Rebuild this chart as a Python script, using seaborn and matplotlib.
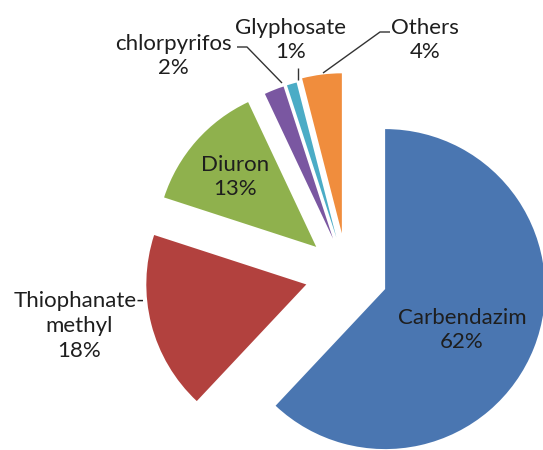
import matplotlib
matplotlib.use("Agg")
import matplotlib.pyplot as plt
import seaborn as sns

# Share of residues detected, by pesticide
categories = ["Carbendazim", "Thiophanate-\nmethyl", "Diuron", "chlorpyrifos", "Glyphosate", "Others"]
shares = [62, 18, 13, 2, 1, 4]

sns.set_theme(style="white")
plt.rcParams["font.family"] = ["Lato", "DejaVu Sans"]

colors = ["#4A76B1", "#B2413E", "#8FB14D", "#7A57A1", "#4BACC6", "#F08D3D"]
offsets = [41, 42, 41, 38, 38, 41]

W, H = 543, 450
fig = plt.figure(figsize=(W / 100, H / 100), dpi=100)
ax = fig.add_axes([0, 0, 1, 1])

# pie centre and radius in pixel-like data units (y measured from the bottom)
cx, cy, r = 347, H - 274, 160
wedges, _ = ax.pie(shares, colors=colors, explode=offsets, radius=r, center=(cx, cy),
                   startangle=90, counterclock=False,
                   wedgeprops=dict(linewidth=0))
ax.set_xlim(0, W)
ax.set_ylim(0, H)
ax.set_aspect("equal")
ax.axis("off")

txt = dict(fontsize=16, color="#1E1E1E", ha="center", va="center", linespacing=1.3)

def label(x, y, s):
    ax.text(x, H - y, s, **txt)

label(462, 330, f"{categories[0]}\n{shares[0]}%")
label(79, 326, f"{categories[1]}\n{shares[1]}%")
label(235, 177, f"{categories[2]}\n{shares[2]}%")
label(173, 56, f"{categories[3]}\n{shares[3]}%")
label(291, 40, f"{categories[4]}\n{shares[4]}%")
label(425, 40, f"{categories[5]}\n{shares[5]}%")

# leader lines for the thin slices
lk = dict(color="#333333", lw=1.0, solid_capstyle="butt")
ax.plot([237, 247, 282], [H - 47, H - 47, H - 83], **lk)
ax.plot([298, 298], [H - 68, H - 80], **lk)
ax.plot([390, 380, 323], [H - 32, H - 32, H - 73], **lk)

fig.savefig("out.png", dpi=100)
